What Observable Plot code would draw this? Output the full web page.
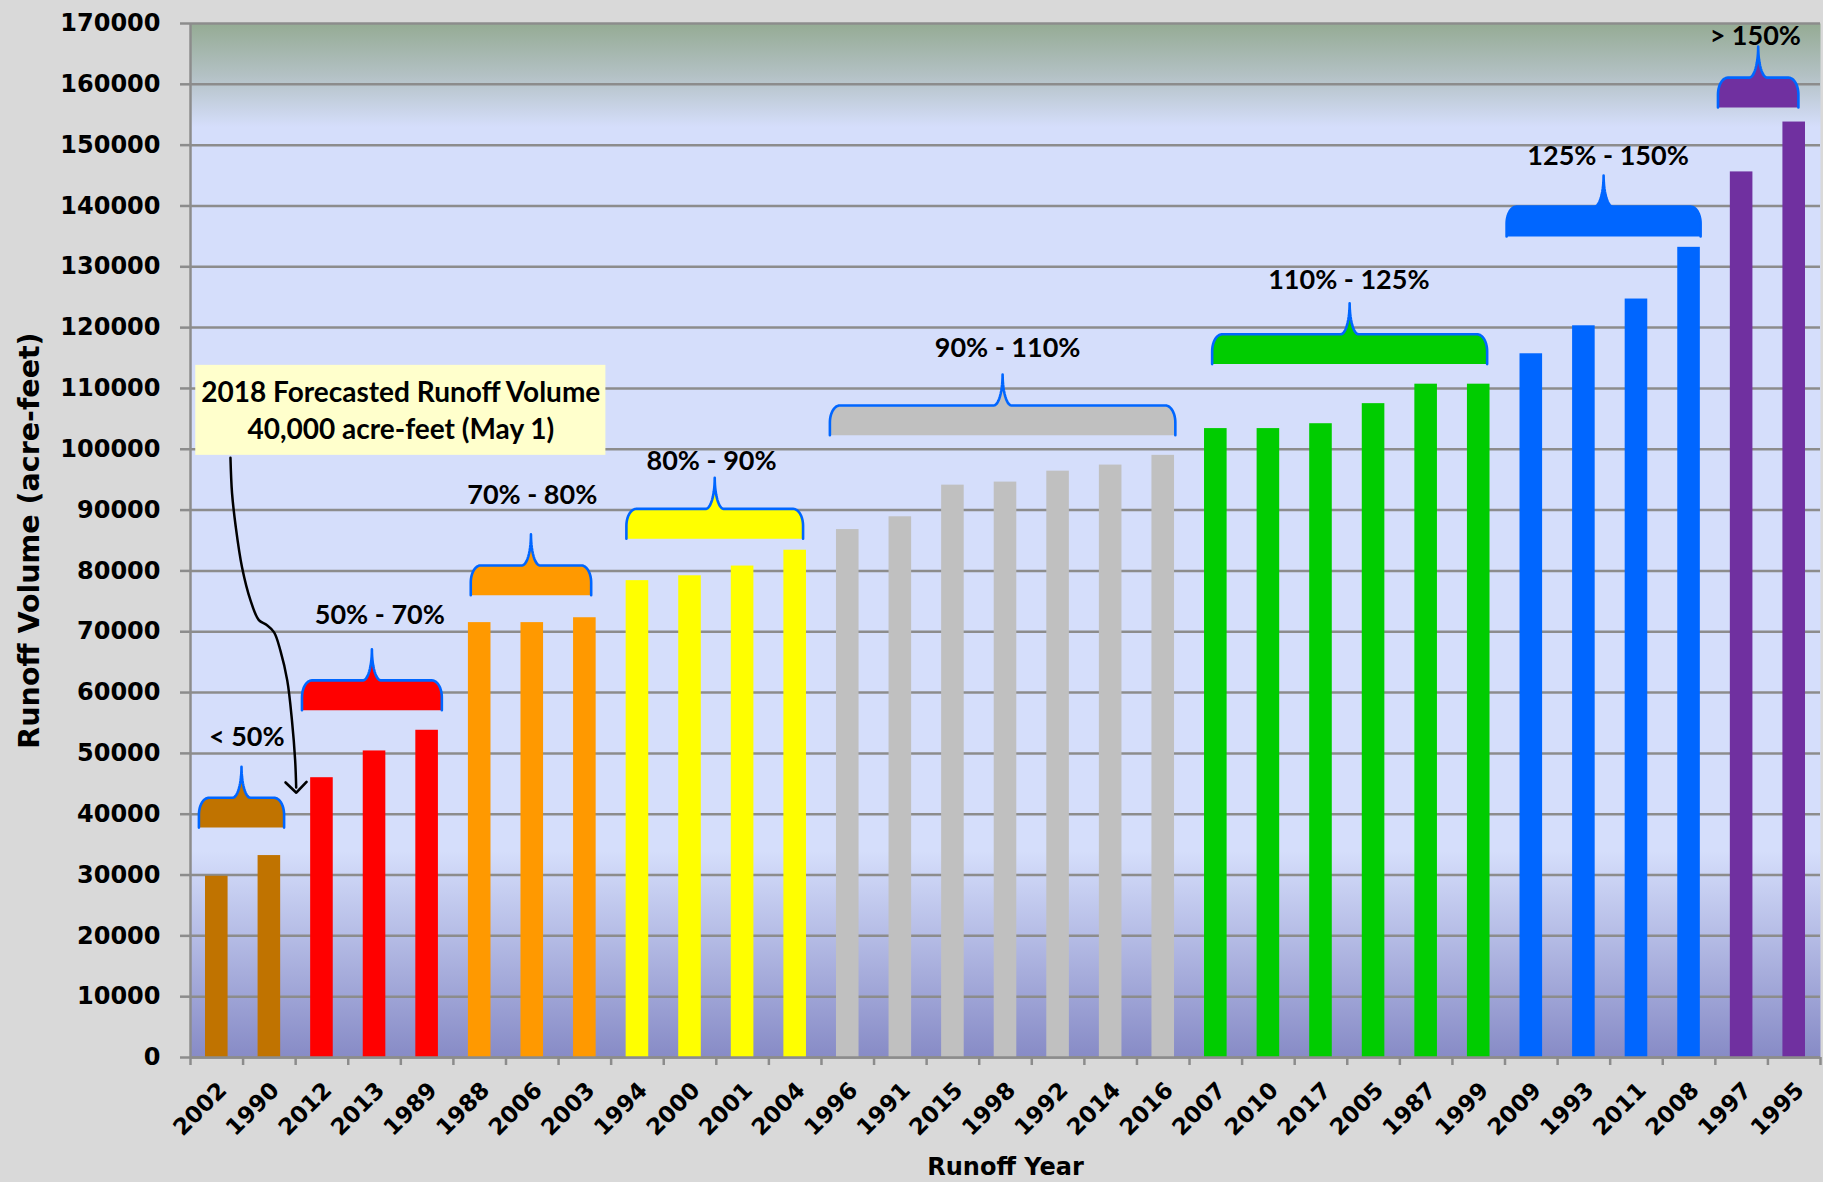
<!DOCTYPE html>
<html><head><meta charset="utf-8">
<script src="https://cdn.jsdelivr.net/npm/d3@7"></script>
<script src="https://cdn.jsdelivr.net/npm/@observablehq/plot@0.6"></script>
<style>
html,body{margin:0;padding:0;background:#d9d9d9;}
#chart{width:1823px;height:1182px;}
</style></head><body><div id="chart"></div>
<script>
// ---- data ----
const years = ["2002","1990","2012","2013","1989","1988","2006","2003","1994","2000","2001","2004","1996","1991","2015","1998","1992","2014","2016","2007","2010","2017","2005","1987","1999","2009","1993","2011","2008","1997","1995"];
const runoff = [29800,33200,46000,50400,53800,71500,71500,72300,78400,79200,80800,83400,86800,88900,94100,94600,96400,97400,99000,103400,103400,104200,107500,110700,110700,115700,120300,124700,133200,145600,153800];
const groupLabels = ["< 50%","50% - 70%","70% - 80%","80% - 90%","90% - 110%","110% - 125%","125% - 150%","> 150%"];
const groupColors = ["#c07300","#ff0000","#ff9900","#ffff00","#c0c0c0","#00cc00","#0066ff","#7030a0"];
const groupSizes = [2,3,3,4,7,6,4,2];
// brace extents (category index units) and base value (acre-feet)
const braceStart = [0.16,2.12,5.33,8.29,12.16,19.43,25.03,29.05];
const braceEnd   = [1.78,4.78,7.62,11.65,18.73,24.66,28.72,30.58];
const braceBase  = [37800,57100,76000,85300,102300,114000,135000,156200];
const labelX = [1.07,3.6,6.5,9.91,15.54,22.03,26.96,29.76];
const labelY = [52700,72700,92400,98000,116600,127800,148200,167900];
// annotation
const noteLines = ["2018 Forecasted Runoff Volume","40,000 acre-feet (May 1)"];
const noteLineY = [109200,103100];
const noteX = 4.0;
const noteBoxX = [0.1,7.9];
const noteBoxY = [99000,113800];
const arrowX = [0.76,0.79,0.86,0.98,1.14,1.30,1.45,1.59,1.71,1.84,1.93,1.99,2.01];
const arrowY = [98600,92800,87300,80600,75200,71900,71100,69900,66900,62000,55400,48900,44400];
const yTicks = d3.range(0,170001,10000);

// ---- derived tables ----
const groupOf = groupSizes.flatMap((n,g)=>Array(n).fill(g));
const bars = years.map((yr,i)=>({i, year: yr, value: runoff[i], color: groupColors[groupOf[i]]}));

function bracePoints(x0, x1, b){
  const t = b + 4900, p = b + 10000;
  const rx = 0.19, ry = 2800, w = 0.17, cx = (x0+x1)/2, N = 14;
  const pts = [{x:x0,y:b},{x:x0,y:t-ry}];
  for(let k=1;k<=N;k++){const a=k/N*Math.PI/2; pts.push({x:x0+rx-rx*Math.cos(a), y:t-ry+ry*Math.sin(a)});}
  for(let k=0;k<=N;k++){const a=k/N*Math.PI/2; pts.push({x:cx-w+w*Math.sin(a), y:p-(p-t)*Math.cos(a)});}
  for(let k=N;k>=0;k--){const a=k/N*Math.PI/2; pts.push({x:cx+w-w*Math.sin(a), y:p-(p-t)*Math.cos(a)});}
  for(let k=0;k<=N;k++){const a=k/N*Math.PI/2; pts.push({x:x1-rx+rx*Math.sin(a), y:t-ry+ry*Math.cos(a)});}
  pts.push({x:x1,y:b});
  return pts;
}
const braceMarks = groupLabels.map((g,j)=>Plot.line(bracePoints(braceStart[j],braceEnd[j],braceBase[j]),
  {x:"x", y:"y", fill: groupColors[j], stroke:"#0066ff", strokeWidth:2.6, curve:"linear"}));

const grid = "#8c8c8c";
const plot = Plot.plot({
  width: 1823, height: 1182,
  marginLeft: 190, marginRight: 3, marginTop: 23, marginBottom: 125,
  style: {background:"#d9d9d9", fontFamily:"DejaVu Sans", fontSize:"22px", color:"black", overflow:"visible"},
  x: {type:"linear", domain:[0,31]},
  y: {domain:[0,170000]},
  color: {type:"identity"},
  marks: [
    Plot.frame({fill:"#d5defb", stroke:null}),
    Plot.ruleY(yTicks, {stroke:grid, strokeWidth:2.5}),
    Plot.rect(bars, {x1:"i", x2:d=>d.i+1, y1:d=>0, y2:"value", fill:"color", insetLeft:15, insetRight:15}),
    ...braceMarks,
    Plot.text(groupLabels, {x:(d,i)=>labelX[i], y:(d,i)=>labelY[i], text:d=>d, fontFamily:"Lato", fontWeight:"bold", fontSize:27, fill:"black"}),
    Plot.rect([0], {x1:()=>noteBoxX[0], x2:()=>noteBoxX[1], y1:()=>noteBoxY[0], y2:()=>noteBoxY[1], fill:"#ffffcc"}),
    Plot.text(noteLines, {x:()=>noteX, y:(d,i)=>noteLineY[i], text:d=>d, fontFamily:"Lato", fontWeight:"bold", fontSize:28, fill:"black"}),
    Plot.line(arrowX.map((x,i)=>({x, y:arrowY[i]})), {x:"x", y:"y", curve:"catmull-rom", stroke:"black", strokeWidth:2.5, markerEnd:"arrow"}),
    Plot.ruleX([0], {stroke:grid, strokeWidth:2.5}),
    Plot.ruleY([0], {stroke:grid, strokeWidth:2.5}),
    Plot.axisY({ticks:yTicks, tickFormat:d3.format("d"), tickSize:10, tickPadding:20, label:null, fontSize:24, fontWeight:"bold", stroke:grid, strokeWidth:2.5, fill:"black"}),
    Plot.axisX({ticks:d3.range(0,32), tickFormat:()=>"", tickSize:8, label:null, stroke:grid, strokeWidth:2.5}),
    Plot.axisX({ticks:years.map((_,i)=>i+0.5), tickFormat:d=>years[Math.floor(d)], tickSize:0, tickPadding:29, tickRotate:-45, dx:6, label:null, fontSize:23, fontWeight:"bold", fill:"black"}),
    Plot.text(["Runoff Volume (acre-feet)"], {frameAnchor:"left", dx:-161, rotate:-90, textAnchor:"middle", lineAnchor:"middle", text:d=>d, fontSize:28.5, fontWeight:"bold", fill:"black"}),
    Plot.text(["Runoff Year"], {frameAnchor:"bottom", dy:110, textAnchor:"middle", lineAnchor:"middle", text:d=>d, fontSize:24, fontWeight:"bold", fill:"black"})
  ]
});

// background gradient for the plotting area
const svg = plot.tagName.toLowerCase()==="svg" ? plot : plot.querySelector("svg");
const ns = "http://www.w3.org/2000/svg";
const defs = document.createElementNS(ns,"defs");
const lg = document.createElementNS(ns,"linearGradient");
lg.setAttribute("id","bgGrad"); lg.setAttribute("x1","0"); lg.setAttribute("y1","0"); lg.setAttribute("x2","0"); lg.setAttribute("y2","1");
[["0","#95ab94"],["0.05","#b3c1c4"],["0.10","#d5defb"],["0.80","#d5defb"],["1","#878bc6"]].forEach(([o,c])=>{
  const s=document.createElementNS(ns,"stop"); s.setAttribute("offset",o); s.setAttribute("stop-color",c); lg.appendChild(s);});
defs.appendChild(lg); svg.insertBefore(defs, svg.firstChild);
const fr = svg.querySelector('[aria-label="frame"]');
const frRect = fr && (fr.tagName.toLowerCase()==="rect" ? fr : fr.querySelector("rect"));
if (frRect) frRect.setAttribute("fill","url(#bgGrad)");
svg.querySelectorAll("marker").forEach(m=>{
  m.setAttribute("markerWidth","14"); m.setAttribute("markerHeight","14"); m.setAttribute("stroke-width","0.75");
  m.querySelectorAll("path").forEach(p=>p.setAttribute("stroke-width","0.75"));
});
document.getElementById("chart").appendChild(plot);
</script></body></html>
